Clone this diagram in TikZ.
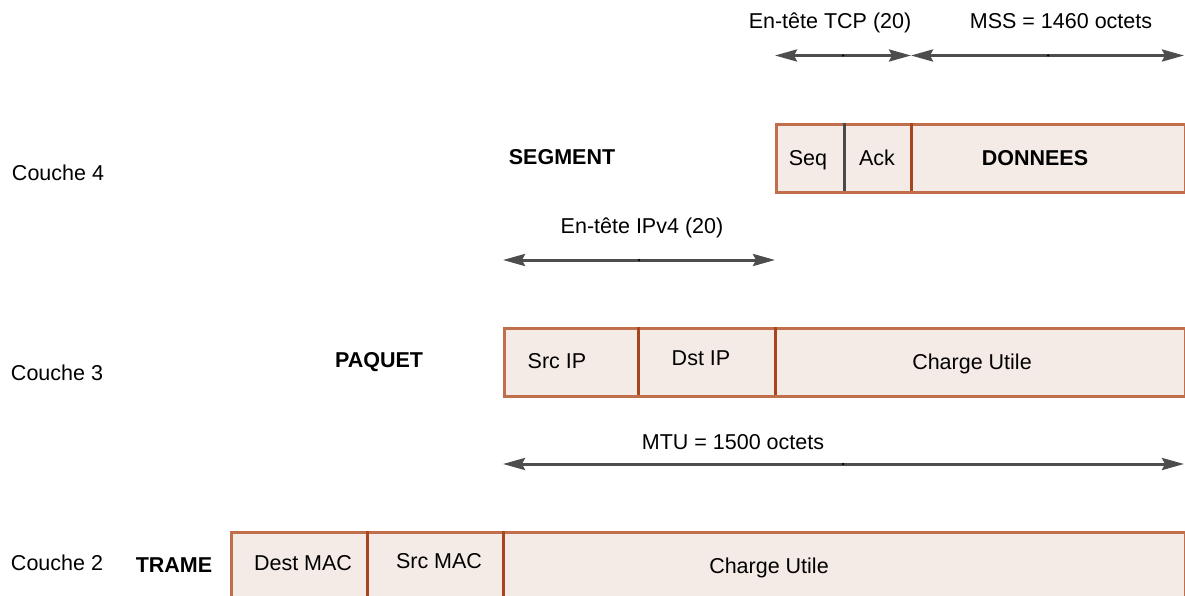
\documentclass[tikz,border=0pt]{standalone}
\usepackage{fontspec}
\setmainfont{Liberation Sans}
\usetikzlibrary{arrows.meta}
\definecolor{fieldfill}{HTML}{F5EBE6}
\definecolor{fieldedge}{HTML}{C06E4C}
\definecolor{fielddiv}{HTML}{A6461F}
\definecolor{graydiv}{HTML}{4A4A4A}
\definecolor{arrowcol}{HTML}{4D4D4D}
\tikzset{
  x=1pt, y=-1pt,
  every node/.style={font=\fontsize{21.5}{26}\selectfont, inner sep=0pt},
  txt/.style={anchor=base},
  bold/.style={anchor=base, font=\fontsize{21.5}{26}\selectfont\bfseries},
  outer/.style={draw=fieldedge, fill=fieldfill, line width=3pt, anchor=north west,
                rectangle, minimum height=68pt},
  divline/.style={draw=fielddiv, line width=3pt},
  grayline/.style={draw=graydiv, line width=3pt},
  span/.style={draw=arrowcol, line width=3pt,
               {Stealth[length=22pt,width=12pt,inset=3pt]}-{Stealth[length=22pt,width=12pt,inset=3pt]}},
  middot/.style={fill=black, circle, minimum size=2.5pt, inner sep=0pt},
}
\begin{document}
\begin{tikzpicture}
\useasboundingbox (0,0) rectangle (1185,596);
\clip (0,0) rectangle (1185,596);

% ---- layer 4 : segment ----
\node[outer, minimum width=408.5pt] (seg) at (775,123) {};
\coordinate (segA) at (844,123); \coordinate (segAb) at (844,191);
\coordinate (segB) at (911,123); \coordinate (segBb) at (911,191);
\draw[grayline] (segA) -- (segAb);
\draw[divline] (segB) -- (segBb);
\node[txt] (seq) at (808,166) {Seq};
\node[txt] (ack) at (877,166) {Ack};
\node[bold] (donnees) at (1035,166) {DONNEES};
\node[bold] (segment) at (562,165) {SEGMENT};
\node[txt] (c4) at (58,181) {Couche 4};

% TCP header / MSS spans
\coordinate (tcpL) at (775,55.5); \coordinate (tcpR) at (911,55.5);
\coordinate (mssL) at (911,55.5); \coordinate (mssR) at (1184,55.5);
\draw[span] (tcpL) -- (tcpR);
\draw[span] (mssL) -- (mssR);
\node[middot] (tcpM) at (843,55.5) {};
\node[middot] (mssM) at (1048,55.5) {};
\node[txt] (tcplab) at (830,29) {En-tête TCP (20)};
\node[txt] (msslab) at (1061,29) {MSS = 1460 octets};

% IPv4 header span
\coordinate (ipL) at (503,260); \coordinate (ipR) at (775,260);
\draw[span] (ipL) -- (ipR);
\node[middot] (ipM) at (639,260) {};
\node[txt] (iplab) at (642,233) {En-tête IPv4 (20)};

% ---- layer 3 : packet ----
\node[outer, minimum width=680.5pt] (pkt) at (503,327) {};
\coordinate (pktA) at (638,327); \coordinate (pktAb) at (638,395);
\coordinate (pktB) at (775,327); \coordinate (pktBb) at (775,395);
\draw[divline] (pktA) -- (pktAb);
\draw[divline] (pktB) -- (pktBb);
\node[txt] (srcip) at (557,368) {Src IP};
\node[txt] (dstip) at (701,365) {Dst IP};
\node[txt] (charge3) at (972,369) {Charge Utile};
\node[bold] (paquet) at (379,367) {PAQUET};
\node[txt] (c3) at (57,380) {Couche 3};

% MTU span
\coordinate (mtuL) at (503,464); \coordinate (mtuR) at (1184,464);
\draw[span] (mtuL) -- (mtuR);
\node[middot] (mtuM) at (843,464) {};
\node[txt] (mtulab) at (733,449) {MTU = 1500 octets};

% ---- layer 2 : frame ----
\node[outer, minimum width=954pt, minimum height=110pt] (frm) at (230,531) {};
\coordinate (frmA) at (367,531); \coordinate (frmAb) at (367,641);
\coordinate (frmB) at (503,531); \coordinate (frmBb) at (503,641);
\draw[divline] (frmA) -- (frmAb);
\draw[divline] (frmB) -- (frmBb);
\node[txt] (destmac) at (303,570) {Dest MAC};
\node[txt] (srcmac) at (439,568) {Src MAC};
\node[txt] (charge2) at (769,573) {Charge Utile};
\node[bold] (trame) at (174,572) {TRAME};
\node[txt] (c2) at (57,570) {Couche 2};
\end{tikzpicture}
\end{document}
